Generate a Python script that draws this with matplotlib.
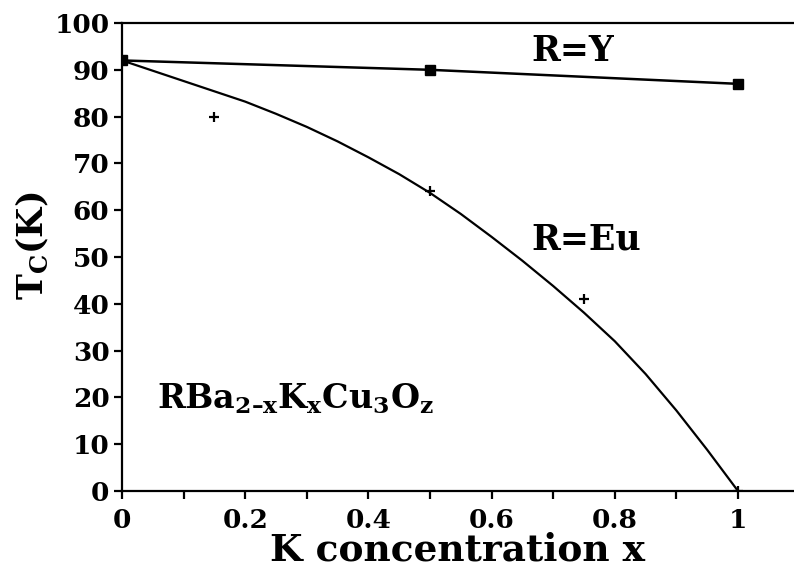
import numpy as np
import matplotlib
matplotlib.use("Agg")
import matplotlib.pyplot as plt

plt.rcParams['font.family'] = 'DejaVu Serif'
plt.rcParams['font.weight'] = 'bold'
plt.rcParams['axes.labelweight'] = 'bold'
plt.rcParams['mathtext.fontset'] = 'custom'
plt.rcParams['mathtext.rm'] = 'DejaVu Serif:bold'
plt.rcParams['mathtext.it'] = 'DejaVu Serif:bold'
plt.rcParams['mathtext.bf'] = 'DejaVu Serif:bold'

# R=Y measured points (filled squares)
x_y = [0.0, 0.5, 1.0]
tc_y = [92.0, 90.0, 87.0]

# R=Eu measured points (plus markers)
x_eu = [0.0, 0.15, 0.5, 0.75, 1.0]
tc_eu = [92.0, 80.0, 64.0, 41.0, 0.0]

# R=Eu guide curve
x_eu_curve = [0.0, 0.05, 0.1, 0.15, 0.2, 0.25, 0.3, 0.35, 0.4, 0.45, 0.5,
              0.55, 0.6, 0.65, 0.7, 0.75, 0.8, 0.85, 0.9, 0.95, 1.0]
tc_eu_curve = [92.0, 89.8, 87.6, 85.4, 83.2, 80.6, 77.8, 74.7, 71.3, 67.7, 63.7,
               59.2, 54.3, 49.2, 43.8, 38.1, 32.0, 25.0, 17.2, 8.8, 0.0]

x_ticks = [0, 0.2, 0.4, 0.6, 0.8, 1.0]
x_tick_labels = ['0', '0.2', '0.4', '0.6', '0.8', '1']
y_ticks = list(range(0, 101, 10))

fig = plt.figure(figsize=(7.94, 5.71), dpi=100)
ax = fig.add_axes([122 / 794, 1 - 491 / 571, 1 - 122 / 794, (491 - 23) / 571])

ax.plot(x_eu_curve, tc_eu_curve, color='black', lw=1.6)
ax.plot(x_y, tc_y, color='black', lw=1.8, marker='s', ms=7)
ax.plot(x_eu, tc_eu, ls='none', color='black', marker='+', ms=7, mew=1.6)

ax.set_xlim(0, 672 / 616)
ax.set_ylim(0, 100)
ax.spines['right'].set_visible(False)
for s in ['left', 'bottom', 'top']:
    ax.spines[s].set_linewidth(1.6)

ax.set_xticks(x_ticks)
ax.set_xticklabels(x_tick_labels)
ax.set_xticks(np.arange(0.1, 1.05, 0.2), minor=True)
ax.set_yticks(y_ticks)
ax.tick_params(axis='both', which='both', direction='out', width=1.6, labelsize=19)
ax.tick_params(axis='x', which='both', length=6, pad=6)
ax.tick_params(axis='y', length=6, pad=3)

ax.set_xlabel('K concentration x', fontsize=27, labelpad=-1)
ax.set_ylabel(r'$\mathrm{T_C(K)}$', fontsize=25)
ax.yaxis.set_label_coords(-0.105, 0.523)

ax.text(0.731, 91.8, 'R=Y', fontsize=25, ha='center', va='baseline')
ax.text(0.753, 51.5, 'R=Eu', fontsize=25, ha='center', va='baseline')
ax.text(0.057, 17.7, r'$\mathrm{RBa_{\text{2–x}}K_xCu_3O_z}$', fontsize=24,
        ha='left', va='baseline')

fig.savefig('out.png', dpi=100)
